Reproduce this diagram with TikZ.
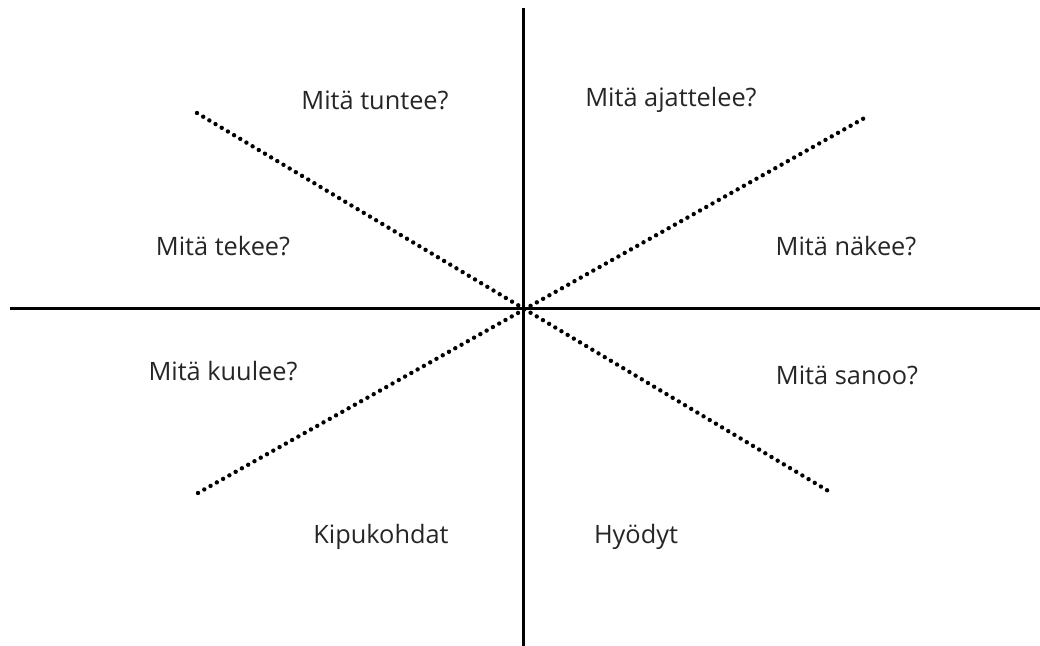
\documentclass[tikz,border=0pt]{standalone}
\usepackage{fontspec}
\setmainfont{Open Sans}
\usetikzlibrary{positioning}

\begin{document}
\begin{tikzpicture}[
    x=0.75pt, y=-0.75pt,
    label/.style={font=\fontsize{19pt}{22pt}\selectfont, text=black!85, inner sep=0pt},
    axis/.style={line width=2.25pt, draw=black},
    diag/.style={line width=3.3pt, draw=black, line cap=round, dash pattern=on 0pt off 5.4pt},
  ]
  \useasboundingbox (0,0) rectangle (1040,646);
  % axes
  \coordinate (top) at (523,8);
  \coordinate (bottom) at (523,646);
  \coordinate (left) at (10,308);
  \coordinate (right) at (1040,308);
  \draw[axis] (top) -- (bottom);
  \draw[axis] (left) -- (right);
  % diagonals
  \coordinate (nw) at (197,113);
  \coordinate (se) at (830,492);
  \coordinate (sw) at (198,493);
  \coordinate (ne) at (868,116);
  \draw[diag] (nw) -- (se);
  \draw[diag] (sw) -- (ne);
  % labels
  \node[label] (feels) at (375,100) {Mitä tuntee?};
  \node[label] (thinks) at (671,100) {Mitä ajattelee?};
  \node[label] (does) at (223,246) {Mitä tekee?};
  \node[label] (sees) at (846,246) {Mitä näkee?};
  \node[label] (hears) at (223,371) {Mitä kuulee?};
  \node[label] (says) at (847,375) {Mitä sanoo?};
  \node[label] (pains) at (381,537) {Kipukohdat};
  \node[label] (gains) at (636,537) {Hyödyt};
\end{tikzpicture}
\end{document}
